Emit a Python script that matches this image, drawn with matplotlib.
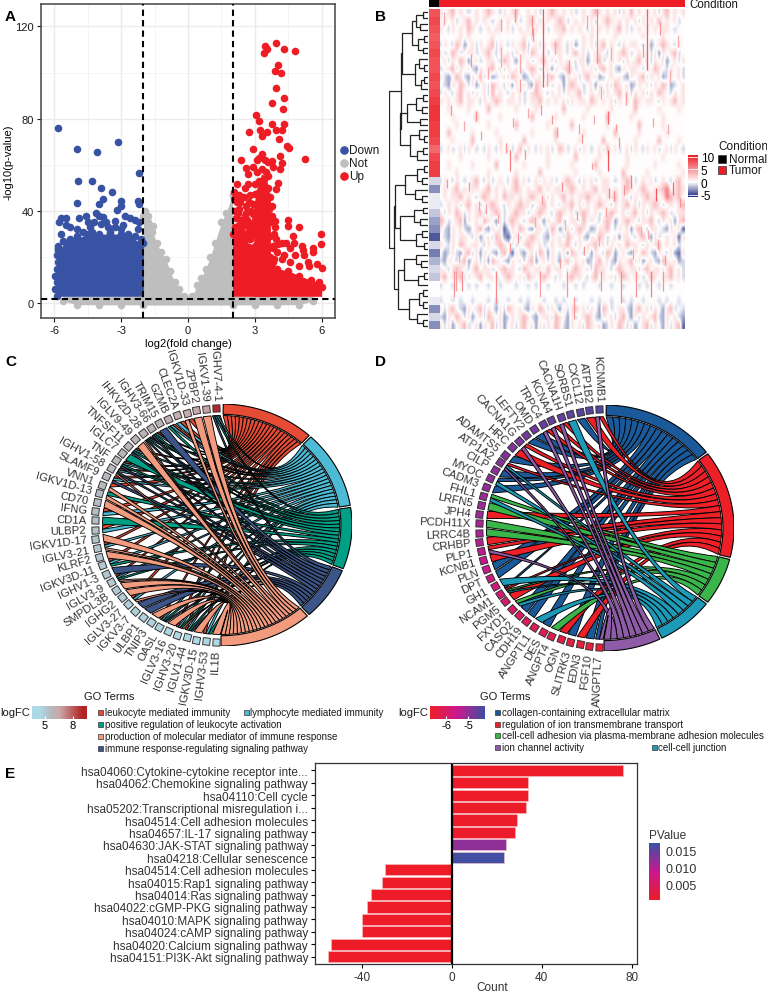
import numpy as np
from matplotlib import pyplot as plt
from matplotlib.cm import ScalarMappable
from matplotlib.colors import LinearSegmentedColormap, Normalize, TwoSlopeNorm
from matplotlib.lines import Line2D
from matplotlib.markers import MarkerStyle
from matplotlib.patches import PathPatch, Polygon, Rectangle
from matplotlib.path import Path
from matplotlib.transforms import Affine2D

plt.rcParams['font.family'] = ['Liberation Sans', 'DejaVu Sans']
plt.rcParams['axes.unicode_minus'] = False
W, H = 767, 995

up_x = [3.46,3.95,4.30,4.79,3.53,3.41,4.05,3.92,4.19,3.95,4.30,3.76,4.25,3.04,3.19,3.79,4.30,2.75,3.22,3.53,3.34,3.97,4.21,4.07,4.46,4.52,2.94,5.25,4.15,3.3,
        2.4,2.6,2.7,2.9,3.1,3.2,3.45,3.6,3.76,3.8,4.15,4.2,4.05,3.95,3.1,3.3,3.5,3.6,3.4,3.2,3.0,2.7,2.55,2.2,2.05,2.3,2.5,2.8,3.0,3.2,3.4,3.6,3.65,3.45,3.2,2.9,2.6,2.2,2.05,2.3,2.6,2.9,3.1,3.35,3.65,3.75,3.55,3.9,3.3,3.0,2.7,2.4,2.15,2.1,2.4,2.7,3.0,3.3,3.5,3.7,2.2,2.5,2.8,3.15,3.4,3.8,
        4.2,4.4,4.75,4.6,5.95,5.95,4.5,4.5,5.0,4.7,4.05,5.1,5.15,5.6,5.6,4.3,5.2,4.8,5.8,6.0,5.4,4.6,5.0,5.45,4.2,
        2.35,2.55,2.75,2.45,2.85,2.25,2.65,2.95,2.3,2.55,2.8,2.1,2.35,2.6,2.9,3.7,3.75,3.85,3.9,3.7,3.8,3.95,4.0,3.7,3.85]
up_y = [111.6,112.6,110.4,109.5,110,108.3,103.3,100.7,99.8,93.4,89.1,86.7,84.2,81.4,79,77.6,77.5,74.4,75.1,74.1,72.4,75.2,75,71,68,67.2,67,62.7,63.7,64.8,
        62,58.5,56,59,62,63,62,61,61.5,59,58,60.7,52,49.5,57,58,57,55,54,53,51.5,51.5,50,51.5,48,47,46,47,47.5,48,49,50,46,44,43,43,42,44,45,41,39,38.5,40,39,41,38,35.5,35.5,34,36,35,36,37,33,32,31,31,30,31,29,30,28,28,27,27,25,
        26,26,26,24,29.8,25.6,36,33.5,33,29,25.5,25,23,24,22,21,21,21,17,15.2,18,18,16,16,19,
        44,38,44,30,40,39,36,34,34,34,32,40,28,29,30,46,42,30,33,35,24,28,22,20,19]
down_x = [-5.85,-5,-4.1,-3.15,-2.2,-4.95,-4.3,-3.9,-3.4,-3.8,-3,-4.0,-5,-2.25,-2.2,-3.2,-3,-4.15,-4.9,-5.7,-5.5,-4.6,-4,-3.8,-3.3,-2.85,-2.6,-2.4,-2.2,-2.25,-5.8,-5.5,-5.3,-5,
          -5.85,-5.6,-5.3,-5,-4.7,-4.4,-4.2,-3.9,-3.6,-3.3,-3,-2.7,-2.4,-2.1,-5.7,-4.5,-4.3,-3.7,-3.5,-2.9,
          -5.9,-5.95,-5.9,-5.95,-5.9,-5.85,-5.9,-5.85]
down_y = [76,66.7,65.5,69.8,56.5,53,53,50,48,45,44.3,43,43.5,44.3,43,40.5,42,39,37,37,37,38,38,37.5,35.5,37.8,37,36,35,32,35,34,33,32,
          25,27,28,29,31,33,35,34.5,33,33,32,30,29,28,30,35,31,35,31,34,
          3,6,9,12,15,18,21,24]
not_x = [-1.59,-1.95,-1.8]
not_y = [33.6,40,38]

down_env_x = [-5.9,-5.85,-5.5,-5,-4.5,-4,-3.5,-3,-2.5,-2.0]
down_env_top = [12,23,26,28,30,30,30,30,28,26]
up_env_x = [2.0,2.5,3,3.5,3.8,4,4.5,5,5.5,5.9,6.0]
up_env_top = [30,27,25,22,18,15,14,12,10,9,7]
up_core_x = [2.95,3.1,3.3,3.5,3.7]
up_core_top = [42,50,56,55,46]
not_env_x = [-2,-1.8,-1.6,-1.4,-1.2,-1,-.8,-.6,-.4,-.2,0,.2,.4,.6,.8,1,1.2,1.5,1.7,2]
not_env_top = [38,35,31,26,22,19,14,9,6,3,1.5,3,8,11,15,20,26,35,39,47]
floor_x = [-5.6,-5,-4,-3,-2,2,3,4,5,5.6]
floor_top = [3,3,3,3,3,3,3,3,3,3]
floor_low = [1,-.6,-.7,-.7,-.7,-.7,-.7,-.7,-.6,1]
env_floor = 3

# ---- panel B: hand read map of the heatmap, one row = one band of the picture
heat_rows = [
 ",.,+.,.-.,.,+,.-,.,+..,.,-.,+,.,.,-.,.,+,.,.,-,.+.,.,.,-,+.,.,",
 ".,.,-.,+.,.,.-.,.,.,-.,+.,.,.,+,-.,.,.,-.,+,.,.,.,-,.,.+.,.,-",
 ",.-,.,.+,.-.,.,,.,-.,.,.,.,-.,,+.,.,.-,.,.,.,+.,-.,.,.,.,,.-.",
 ".....,.,.....,.......,.,......,.....,.,.....,......,....,.....",
 "-,.-+,=.,-,.,+-,.-,.,+-.,-,.,+,.-,=.,.,-,+.,.-,.,,.-,=.,+,.-,.",
 ",-.+,-.,,-.,+.-,.,-,.,-+,.,-.,,.-,+.,-.,,.-,.,+,-.,.,-,=,.,+-.",
 ".,-,.+,=.,-.,,.-+,.=,.,-.,+.,-,.,.-,,=.,+-.,.,-,.,+.,-,.,=.,-,",
 "-.,+-,.,-=,.,+.,-,.,-.,+,-.,=,.,+,-.,.,-,+.,-=,.,,.-,.+,.-,.,-",
 ",-=.+,-=,.+-,=-.,-+,.=-,.,-,+.-=,.,-,+.,=-.,.,-=,.,+-,.,=-,.,-",
 ".-=,.+,-,=.,-+,.-,=,.,-=+,.,-.,=,+,.-.,=,.,-+,.,=-,.,-,.+,=-.,",
 "-,.-,+.,-,.,-+.,.-,.,-.,+,.-,.,-,.,+-.,.,-,.,+.,-,.,-,.+,.-,.,",
 ",.,.,+.,,.-,.,+,.,,.,-.,,+.,.,.,-,.,,.+,.,.,-,.,.+,.,,.-,.,+.,",
 "..,....,....+......,....,......+.....,.....,.....+.....,....,..",
 "...,.....+.....,.......+.....,......,.....+.....,.......,.....",
 "....,.......,......+.......,.....+........,.......+.....,.....",
 "..+.....,.....,........,.....+......,.......+.....,......,....",
 "...,....+......,.....+.......,.....,.....+.......,.....+....,.",
 "-.,-.,-,.-.-,.-,.,-.+-,.-,.,-.+,-.,-,.-.,-+.,-.,-,.-,.,-.,-,.-",
 ".....,......,......+.......,......+.....,......,........,.....",
 "..,.....,.....+......,.....,.....,.....+.......,......,.....,.",
 "....,.......,......,.....+........,.....,.....+.....,........,",
 "-,.-,.-.,+.-,-.,.-,+.,-.,-,.,-.,+,.-,.,-.,,.-.,+,-.,.,-.,.-,+.",
 ".,.,+.,.,,.,+.,.,.,+,.,.,+.,.,,.,+,.,.,+.,,.,.,+,.,+,.,,+*.,+,",
 ".,.,,+.,.-,+,.,.+,,.,.,+,.,-,.,+.,.,,+,.,.,,+.,.-,.,+,,.,*+,+.",
 "-.,.,-,+.,-.,+,.-,.,+,,-.,+.,.-,,+.,-,.,+,.-,.,+.,-,.,+,-.,.,+",
 ",-,.+,-,.,+-.,+,-.,+,,-.,+,.-,+,.,-,+,.,-.,+,.,-,+.,-,.,+,-.,,",
 "+,-.,+=,.,-+,.=,-,+,.-,+,.=,.,+-.,,-+.,.-,+,=.,+,.-,,+.-,.,=,+",
 ",-=,.,-=.,+-=,.,#-,.+,-=,,.-+,=.,-,+,.=-,,+.-,.,=,+.-,,.-=,.,#",
 ".-=,.,,.-,=.,-+,=#.,-.,+,.-=,.,-+,.,-=,.+,-.,=,,.-,+.=,-.,.,#,",
 ",.-,.+,.,,.-,.,+,.,-.,+,.,-.,.,,+.-,.,,+.,-,.,.+,,.-,.,+.,.,-.",
 ".=-,-=,+-,=,.-=,+.#,-=.,-+,=,.-,=+,.-,=,.-+,=.,-=,.+,-=,.-,=#,",
 "-=,.-,+=.,-,=+,.-=,.,-,+=.,-,.=,+-,.,=-,+.,-=,.,+-,=.,-=+,.,=-",
 ",.-,+,.-,+.,,-.,+,,.-+,.,,-+.,,.-,+,.,-+,,.-,+,.,,-,+.,,-,+.,-",
 ",+.,,+-,.,+.,,-.,+,.,-+,.,+,.-,.,+,,.-,+.,.,-,+,.,,-.+,.,,+.,-",
 "-..-...-.-..-..-...-..-.-..-...-..-.-...-..-..-...-.-..-..-...",
 "..............................................................",
 "-..-.-..-...-.-..-..-.-...-..-.-..-...-.-..-..-.-..-...-.-..-.",
 ",-,+.-=,.,+-,.=,-+,.,-=,.+,-,.=,-,+.,-,.=+,-.,,-=,+.,-,.=,+-.-",
 "-=,.+,-,=.,-+,.,=-,.,+,-=.,,-+,.=,-.,+,-=,.,-,+.=,-,.,+-=,.,-=",
 ",-,=.,+-.,=,.+-,=.,-,+.,=,-,.+,-=,.,-+,.,=-,.+,-,=.,+-,.=,-,+#",
]
heat_levels = {'.': 0.1, '-': -1.0, '=': -2.4, '#': -4, ',': 1.3, '+': 3.2, '*': 6}
normal_col = [8,8.5,8,7.5,8,8.5,8,8,8.5,8,8.5,9,9.5,9.5,9,9,8.5,7,8.5,9,9,-1,-3,-.5,-.5,-1.5,-2.5,-3,-4.5,-1,-3.5,-2,-1,-1.5,0,0,-.5,-3,-1,-3]
streak_x = [.423,.64,.844,.379,.685,.685,.288,.415,.72,.06,.092,.23,.41,.52,.66,.74,.80,.86,.91,.15,.30,.46,.57,.35,.62,.78,.95,.12,.5,.69,.88,.07,.33,.25,.55,
            .02,.25,.31,.38,.47,.6,.7,.9,.97,.13,.2,.33,.44,.53,.66,.76,.83,.94,.05,.1,.17,.27,.36,.48,.58,.63,.73,.87,.93,.03,.16,.24,.32,.42,.51,.59,.68,.75,.82,.89,.98,.08,.19,.29,.39,.49,.56,.65,.71,.79,.85,.92]
streak_top = [0,0,0,.02,.32,.44,.44,.3,.36,.82,.82,.82,.82,.82,.82,.82,.82,.82,.82,.32,.34,.33,.36,.44,.48,.52,.54,.54,.54,.56,.56,.82,.14,.12,.9,
              .01,.03,.0,.06,.1,.02,.12,.04,.08,.14,.18,.22,.2,.16,.24,.26,.11,.19,.3,.35,.38,.42,.31,.37,.39,.33,.4,.34,.36,.53,.6,.64,.7,.58,.66,.74,.62,.55,.68,.72,.59,.76,.61,.73,.65,.78,.63,.71,.57,.75,.69,.77]
streak_low = [.245,.17,.19,.08,.36,.505,.505,.33,.38,.9,.88,.92,.9,.9,.88,.92,.9,.9,.88,.35,.37,.36,.39,.47,.5,.56,.58,.57,.57,.59,.6,.88,.2,.18,.97,
              .05,.07,.04,.1,.14,.06,.16,.08,.12,.18,.22,.26,.24,.2,.28,.3,.15,.23,.33,.38,.41,.45,.34,.4,.42,.36,.43,.37,.39,.56,.63,.67,.73,.61,.69,.77,.65,.58,.71,.75,.62,.79,.64,.76,.68,.81,.66,.74,.6,.78,.72,.8]
streak_val = [8,5.5,7.5,5,7,8,6,5,5,5,5.5,5.5,4.5,5,5,5.5,5,6,5,5,4.5,5,4.5,5,4.5,6,7,5,5.5,6,8,4.5,4,4,5,
              4,4.5,5,5,4,4.5,4,5,4,5,4,4.5,4,5,4,4.5,5,4,5,4,4.5,5,4,4.5,5,4,5,4.5,4,5,4.5,4,5,4.5,4,5,4.5,5,4,4.5,5,4,4.5,5,4,4.5,5,4,5,4.5,4,5]
n_normal, n_tumor = 19, 458
# merge heights of the row dendrogram, leaves are 0
tree = (1.0,
        (.70, (.66, (.42, (.30, (.14, 0, 0), (.2, 0, 0)), (.26, (.1, 0, 0), (.12, 0, 0))),
                    (.34, (.22, 0, (.1, 0, 0)), (.18, (.09, 0, 0), 0))),
              (.72, (.55, (.3, (.12, 0, 0), (.16, 0, 0)), (.2, 0, 0)),
                    (.46, (.24, 0, (.1, 0, 0)), (.28, (.14, 0, 0), 0)))),
        (.88, (.84, (.6, (.28, (.11, 0, 0), (.15, 0, 0)), (.33, 0, (.16, 0, 0))),
                    (.72, (.36, (.14, 0, 0), (.2, 0, 0)), (.3, (.15, 0, 0), (.1, 0, 0)))),
              (.78, (.62, (.3, 0, (.18, 0, 0)), (.26, (.1, 0, 0), 0)),
                    (.5, (.24, (.12, 0, 0), (.14, 0, 0)), (.28, 0, (.13, 0, 0))))))

# ---- panel C
c_genes = ['IGHV7-4-1','IGKV1-39','ZPBP2','IGKV1D-33','CLEC2A','GZMB','TRIM15','IGHV3-66','IHKV2D-28','IGLV9-49','TNFSF11','IGLC7','TNF','IGHV1-58','SLAMF9','VNN1','IGKV1D-13','CD70','IFNG','CD1A','ULBP2','IGKV1D-17','IGLV3-21','KLRF2','IGKV3D-11','IGHV1-3','IGLV3-9','SMPDL3B','IGHG2','IGLV3-27','IGKV3-7','ULBP1','TNIP3','OASL','IGLV3-16','IGHV3-20','IGLV1-44','IGKV3D-15','IGHV3-53','IL1B']
c_links = ['0123','4','4','04','01','012','3','0123','01234','4','0123','2','0123','0134','013','04','24','4','01','2','01','4','014','4','012','3','0124','4','4','014','3','3','4','0123','4','0124','0123','4','012','4']
c_lfc = [8.9,6.6,6.4,6.3,6.2,6.1,6.0,5.95,5.9,5.85,5.8,5.75,5.7,5.65,5.6,5.55,5.5,5.45,5.4,5.35,5.3,5.25,5.2,5.15,5.1,5.05,5.0,4.95,4.9,4.85,4.8,4.75,4.7,4.65,4.6,4.55,4.5,4.45,4.4,4.35]
c_terms = ['leukocyte mediated immunity','lymphocyte mediated immunity','positive regulation of leukocyte activation','production of molecular mediator of immune response','immune response-regulating signaling pathway']
c_colors = ['#E64B35','#4DBBD5','#00A087','#F39B7F','#3C5488']
c_arc_colors = ['#E64B35','#4DBBD5','#00A087','#3C5488','#F39B7F']

# ---- panel D
d_genes = ['KCNMB1','ATP1B2','CXCL12','SORBS1','CACNA1H','KCNA4','TRPC4','OMD','LEFTY2','CACNA1G','HRC','ADAMTS5','ATP1A2','CILP','MYOC','CADM3','FHL1','LRFN5','JPH4','PCDH11X','LRRC4B','CRHBP','PLP1','KCNB1','PLN','DPT','GH1','NCAM1','PGM5','FXYD1','CASQ2','CDH19','ANGPTL1','DES','ANGPT4','OGN','SLITRK3','EDN3','FGF10','ANGPTL7']
d_links = ['14','1','0','3','14','14','14','0','0','14','1','0','134','0','03','0','23','2','1','2','2','1','14','1','0','0','3','0123','1','23','0','0','3','0','2','1','0','1','0','04']
d_lfc = [-4.42,-4.46,-4.5,-4.54,-4.58,-4.62,-4.66,-4.7,-4.74,-4.78,-4.82,-4.86,-4.9,-4.94,-4.98,-5.02,-5.06,-5.1,-5.14,-5.18,-5.24,-5.32,-5.42,-5.5,-5.58,-5.66,-5.74,-5.82,-5.9,-5.98,-6.05,-6.12,-6.18,-6.24,-6.3,-6.36,-6.42,-6.48,-6.54,-6.6]
d_terms = ['collagen-containing extracellular matrix','regulation of ion transmembrane transport','cell-cell adhesion via plasma-membrane adhesion molecules','ion channel activity','cell-cell junction']
d_colors = ['#1B5A9A','#EE2027','#3AB54A','#8E5BA6','#1D9AB8']
d_arc_colors = ['#1B5A9A','#EE2027','#3AB54A','#1D9AB8','#8E5BA6']

# ---- panel E
paths = ['hsa04060:Cytokine-cytokine receptor inte...','hsa04062:Chemokine signaling pathway','hsa04110:Cell cycle','hsa05202:Transcriptional misregulation i...','hsa04514:Cell adhesion molecules','hsa04657:IL-17 signaling pathway','hsa04630:JAK-STAT signaling pathway','hsa04218:Cellular senescence','hsa04514:Cell adhesion molecules','hsa04015:Rap1 signaling pathway','hsa04014:Ras signaling pathway','hsa04022:cGMP-PKG signaling pathway','hsa04010:MAPK signaling pathway','hsa04024:cAMP signaling pathway','hsa04020:Calcium signaling pathway','hsa04151:PI3K-Akt signaling pathway']
counts = [76,34,34,33,29,28,24,23,-30,-31,-36,-38,-40,-40,-54,-55]
pvals = [.0003,.0005,.0005,.0006,.0007,.0008,.0122,.0168,.0004,.0004,.0005,.0005,.0005,.0005,.0004,.0003]

fig = plt.figure(figsize=(W/100, H/100), dpi=100)

def px_axes(l, t, r, b):
    return fig.add_axes([l/W, 1-b/H, (r-l)/W, (b-t)/H])

def txt(x, y, s, **kw):
    kw.setdefault('fontsize', 8)
    kw.setdefault('va', 'center')
    kw.setdefault('color', '#1a1a1a')
    return fig.text(x/W, 1-y/H, s, **kw)

def key(x, y, c, size=6):
    fig.add_artist(Rectangle(((x-size/2)/W, 1-(y+size/2)/H), size/W, size/H, transform=fig.transFigure,
                             facecolor=c, edgecolor='#333333', lw=.5))

for s, x, y in zip('ABCDE', [10, 381, 11, 381, 10], [17, 17, 362, 362, 774]):
    txt(x, y, s, fontsize=11, fontweight='bold', ha='center', color='black')

# A
ax = px_axes(41, 5, 335, 319)
blue, grey, red = '#3953A4', '#BEBEBE', '#EE1C25'
ms = 30
ax.fill_between(floor_x, floor_low, floor_top, color=grey, lw=0, zorder=2)
ax.fill_between(not_env_x, -.7, not_env_top, color=grey, lw=0, zorder=2)
ax.scatter(not_env_x, not_env_top, s=ms, color=grey, lw=0, zorder=2)
ax.scatter(not_x, not_y, s=ms, color=grey, lw=0, zorder=2)
ax.scatter(floor_x, floor_low, s=ms, color=grey, lw=0, zorder=2)
ax.fill_between(down_env_x, env_floor, down_env_top, color=blue, lw=0, zorder=3)
ax.scatter(down_env_x, down_env_top, s=ms, color=blue, lw=0, zorder=3)
ax.scatter(down_x, down_y, s=ms, color=blue, lw=0, zorder=3)
ax.fill_between(up_env_x, env_floor, up_env_top, color=red, lw=0, zorder=4)
ax.fill_between(up_core_x, env_floor, up_core_top, color=red, lw=0, zorder=4)
ax.scatter(up_env_x, up_env_top, s=ms, color=red, lw=0, zorder=4)
ax.scatter(up_x, up_y, s=ms, color=red, lw=0, zorder=4)
ax.axvline(-2, color='black', ls=(0, (3, 2)), lw=1.5, zorder=5)
ax.axvline(2, color='black', ls=(0, (3, 2)), lw=1.5, zorder=5)
ax.axhline(2, color='black', ls=(0, (3, 2)), lw=1.5, zorder=5)
ax.set_xlim(-6.6, 6.6)
ax.set_ylim(-6.4, 129.7)
ax.set_xticks([-6, -3, 0, 3, 6])
ax.set_yticks([0, 40, 80, 120])
ax.set_xticks([-4.5, -1.5, 1.5, 4.5], minor=True)
ax.set_yticks([20, 60, 100], minor=True)
ax.grid(True, which='major', color='#EBEBEB', lw=1)
ax.grid(True, which='minor', color='#F2F2F2', lw=.6)
ax.set_axisbelow(True)
ax.tick_params(which='minor', length=0)
ax.tick_params(labelsize=8, length=3, pad=2, colors='#1a1a1a')
for sp in ax.spines.values():
    sp.set_color('#444444')
    sp.set_linewidth(1.1)
ax.set_xlabel('log2(fold change)', fontsize=8, labelpad=2)
ax.set_ylabel('-log10(p-value)', fontsize=8)
ax.yaxis.set_label_coords(-27/294, .5)
for y, c, s in zip([151, 164, 177], [blue, grey, red], ['Down', 'Not', 'Up']):
    fig.add_artist(Line2D([344/W], [1-y/H], marker='o', ms=5.2, color=c, lw=0, transform=fig.transFigure))
    txt(349, y, s, fontsize=8.5)

# B
heat_cmap = LinearSegmentedColormap.from_list('heat', ['#1B2A80', '#FFFFFF', '#ED1C24'])
heat_norm = TwoSlopeNorm(vmin=-5.8, vcenter=0, vmax=10.6)
ax = px_axes(429, 10, 685, 330)
mat = np.array([[heat_levels[c] for c in r.ljust(62, '.')[:62]] for r in heat_rows])
x_split = n_normal/(n_normal+n_tumor)
ax.imshow(mat, cmap=heat_cmap, norm=heat_norm, extent=[x_split, 1, 1, 0], aspect='auto', interpolation='bilinear')
ax.imshow(np.array(normal_col).reshape(-1, 1), cmap=heat_cmap, norm=heat_norm, extent=[0, x_split, 1, 0], aspect='auto', interpolation='nearest')
ax.vlines(x_split+(1-x_split)*np.array(streak_x), streak_top, streak_low, colors=heat_cmap(heat_norm(np.array(streak_val))), lw=.9)
ax.set_xlim(0, 1)
ax.set_ylim(1, 0)
ax.axis('off')

ax = px_axes(429, 1, 685, 8)
ax.barh(0, n_normal, color='black', height=1)
ax.barh(0, n_tumor, left=n_normal, color='#EE1C25', height=1)
ax.set_xlim(0, n_normal+n_tumor)
ax.set_ylim(-.5, .5)
ax.axis('off')
txt(689, 5, 'Condition', fontsize=8.3)

ax = px_axes(389, 10, 428, 330)
leaf = [0]
def dendro(node):
    # returns (row position, height) of a node and draws its joins
    if node == 0:
        leaf[0] += 1
        return leaf[0]-.5, 0
    h, a, b = node
    ya, ha = dendro(a)
    yb, hb = dendro(b)
    ax.plot([ha, h, h, hb], [ya, ya, yb, yb], color='#222222', lw=.9, solid_joinstyle='miter')
    return (ya+yb)/2, h
dendro(tree)
ax.set_xlim(1.0, 0)
ax.set_ylim(leaf[0], 0)
ax.axis('off')

cax = px_axes(688, 156, 698, 198)
grad = np.linspace(10.6, -5.8, 100).reshape(-1, 1)
cax.imshow(grad, cmap=heat_cmap, norm=heat_norm, extent=[0, 1, -5.8, 10.6], aspect='auto')
cax.set_xticks([])
cax.yaxis.tick_right()
cax.set_yticks([10, 5, 0, -5], ['10', '5', '0', '-5'], fontsize=8.5)
cax.tick_params(axis='y', length=0, pad=2)
cax.hlines([10, 5, 0, -5], 0, 1, color='white', lw=.6)
for sp in cax.spines.values():
    sp.set_visible(False)
txt(718, 147, 'Condition', fontsize=8.5)
key(722, 160, 'black', 8)
key(722, 171, '#EE1C25', 8)
txt(729, 160, 'Normal', fontsize=8.5)
txt(729, 171, 'Tumor', fontsize=8.5)

# C, D
def on_circle(r, t):
    t = np.radians(t)
    return r*np.sin(t), r*np.cos(t)

def chord(ax, genes, links, lfc, arc_colors, cmap, norm):
    counts_t = [sum(str(t) in l for l in links) for t in range(5)]
    gap = 1.0
    span = (180-gap*5)/sum(counts_t)
    start = gap/2+.5
    spoke = []
    focus = []
    for t, n in enumerate(counts_t):
        spoke.append(start)
        focus.append(on_circle(.4, start+n*span/2))
        a = np.linspace(start, start+n*span, 30)
        x1, y1 = on_circle(.915, a)
        x2, y2 = on_circle(1.0, a[::-1])
        ax.add_patch(Polygon(np.c_[np.r_[x1, x2], np.r_[y1, y2]], fc=arc_colors[t], ec='black', lw=.8, zorder=4))
        start += n*span+gap
    w = 180/len(genes)
    for i, g in enumerate(genes):
        th = 360-(i+.5)*w
        left = th+w*.42
        part = w*.84/len(links[i])
        for j, c in enumerate(links[i]):
            t = int(c)
            a1, a2 = spoke[t], spoke[t]+span
            spoke[t] += span
            b1, b2 = left-j*part, left-(j+1)*part
            p0, p1 = on_circle(.905, a1), on_circle(.905, a2)
            q1, q2 = on_circle(.905, b1), on_circle(.905, b2)
            verts = [p0, focus[t], q1, q2, focus[t], p1, p0]
            codes = [Path.MOVETO, Path.CURVE3, Path.CURVE3, Path.LINETO, Path.CURVE3, Path.CURVE3, Path.CLOSEPOLY]
            ax.add_patch(PathPatch(Path(verts, codes), fc=arc_colors[t], ec='black', lw=.65, zorder=3+t*.1))
        x, y = on_circle(.965, th)
        m = MarkerStyle('s', transform=Affine2D().rotate_deg(-th))
        ax.scatter([x], [y], s=26, marker=m, color=cmap(norm(lfc[i])), edgecolor='#333333', lw=.7, zorder=5, clip_on=False)
        x, y = on_circle(1.03, th)
        ax.text(x, y, g, rotation=270-th, rotation_mode='anchor', ha='right', va='center', fontsize=8.1, color='#333333', clip_on=False)
    ax.set_xlim(-1, 1)
    ax.set_ylim(-1, 1)
    ax.axis('off')

def go_legend(title_x, logfc_x, bar, ticks, cmap, norm, terms, colors, rows):
    txt(title_x, 697, 'GO Terms', fontsize=8)
    txt(logfc_x, 713, 'logFC', fontsize=8)
    cax = px_axes(*bar)
    cb = fig.colorbar(ScalarMappable(norm=norm, cmap=cmap), cax=cax, orientation='horizontal')
    cax.set_xticks(ticks, [str(t) for t in ticks], fontsize=8)
    cax.tick_params(axis='x', length=2, color='white', direction='in', pad=1)
    cb.outline.set_visible(False)
    for s, c, (x, y) in zip(terms, colors, rows):
        key(x, y, c, 5)
        txt(x+4.5, y, s, fontsize=7.0)

c_cmap = LinearSegmentedColormap.from_list('c', [(0, '#ADD8E6'), (.15, '#ADD8E6'), (.33, '#B5BABF'), (.5, '#C9A8A8'), (.92, '#B22222'), (1, '#B22222')])
c_norm = Normalize(3.6, 9.5)
chord(px_axes(90, 405, 352, 647), c_genes, c_links, c_lfc, c_arc_colors, c_cmap, c_norm)
go_legend(84, 0, (32, 707, 87, 720), [5, 8], c_cmap, c_norm, c_terms, c_colors,
          [(100, 713), (246, 713), (100, 725), (100, 737), (100, 749)])

d_cmap = LinearSegmentedColormap.from_list('d', ['#EE2027', '#C81890', '#3C4FA0'])
d_norm = Normalize(-6.73, -4.23)
chord(px_axes(474, 406, 734, 652), d_genes, d_links, d_lfc, d_arc_colors, d_cmap, d_norm)
go_legend(480, 398, (430, 707, 485, 720), [-6, -5], d_cmap, d_norm, d_terms, d_colors,
          [(497, 713), (497, 725), (497, 736), (497, 748), (654, 748)])

# E
p_cmap = LinearSegmentedColormap.from_list('p', ['#EE1C25', '#C81890', '#3953A4'])
p_norm = Normalize(.0002, .0174)
ax = px_axes(315, 764, 637, 965)
pos = np.arange(len(paths))
ax.barh(pos, counts, height=.9, color=p_cmap(p_norm(np.array(pvals))), edgecolor='#F7C4C8', lw=.4)
ax.axvline(0, color='black', lw=1.6)
ax.set_xlim(-61, 82.4)
ax.set_ylim(15.6, -.6)
ax.set_yticks(pos, paths, fontsize=8.45, color='#333333')
ax.set_xticks([-40, 0, 40, 80])
ax.tick_params(axis='x', labelsize=8.5, length=3, pad=2, labelcolor='#333333')
ax.tick_params(axis='y', length=3, pad=2)
for sp in ax.spines.values():
    sp.set_color('#333333')
    sp.set_linewidth(.9)
ax.set_xlabel('Count', fontsize=8.5, color='#333333', va='center')
ax.xaxis.set_label_coords(177/322, -23/201)
cax = px_axes(649, 844, 660, 901)
cb = fig.colorbar(ScalarMappable(norm=p_norm, cmap=p_cmap), cax=cax)
cax.set_yticks([.005, .01, .015], ['0.005', '0.010', '0.015'], fontsize=9, color='#333333')
cax.tick_params(length=0, pad=4)
cb.outline.set_visible(False)
txt(649, 836, 'PValue', fontsize=8.5, color='#333333')

fig.savefig('out.png', dpi=100)
